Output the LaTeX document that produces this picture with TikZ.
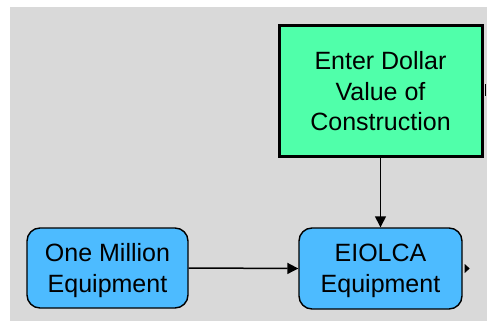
\documentclass[tikz,border=0pt]{standalone}
\usepackage{fontspec}
\setmainfont{Liberation Sans}
\usetikzlibrary{arrows.meta}
\definecolor{canvas}{RGB}{217,217,217}
\definecolor{inputgreen}{RGB}{80,255,170}
\definecolor{modelblue}{RGB}{77,187,255}
\tikzset{
  x=1pt, y=-1pt,
  label text/.style={font=\fontsize{25}{30.5}\selectfont, align=center, text=black},
  inputbox/.style={label text, draw=black, line width=3pt, fill=inputgreen,
    rectangle, minimum width=203pt, minimum height=131pt, inner sep=0pt},
  modelbox/.style={label text, draw=black, line width=1.4pt, fill=modelblue,
    rectangle, rounded corners=13pt, minimum width=161pt, minimum height=80pt,
    inner sep=0pt, text depth=0pt},
  flow/.style={draw=black, line width=1.5pt, -{Triangle[length=11pt,width=11pt]}}
}
\begin{document}
\begin{tikzpicture}
  \useasboundingbox (0,0) rectangle (487,323);
  % canvas
  \fill[canvas] (10,7) rectangle (487,321);
  % nodes
  \node[inputbox] (dollar) at (380.5,91.5) {Enter Dollar\\Value of\\Construction};
  \node[modelbox] (million) at (107.5,268) {One Million\\Equipment};
  \node[modelbox, minimum width=163pt, minimum height=81pt] (eiolca) at (380.5,268.5) {EIOLCA\\Equipment};
  % connectors
  \draw[flow] (million.east) -- (eiolca.west);
  \draw[flow] (dollar.south) -- (eiolca.north);
  % outgoing stubs at the right edges
  \fill[black] (eiolca.east) ++(2,-4.5) -- ++(5,4.5) -- ++(-5,4.5) -- cycle;
  \fill[black] (484.5,84) rectangle (486,96);
\end{tikzpicture}
\end{document}
